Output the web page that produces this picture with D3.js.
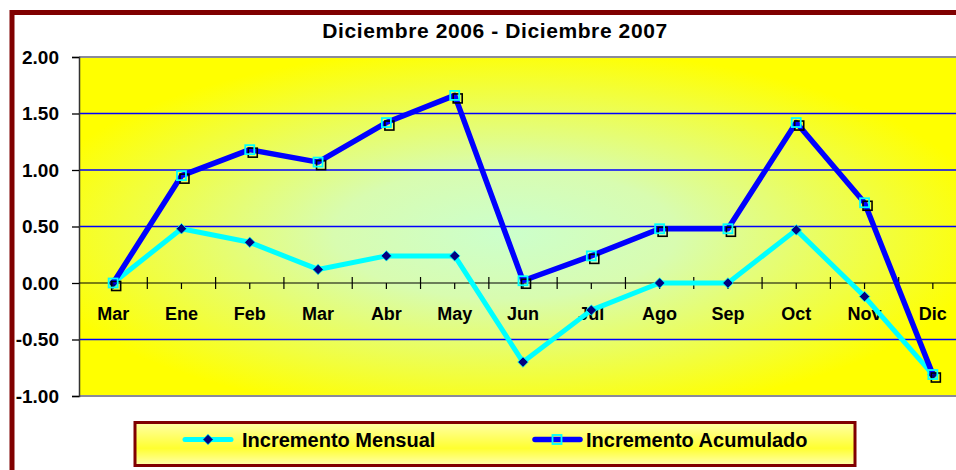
<!DOCTYPE html>
<html lang="es">
<head>
<meta charset="UTF-8">
<title>Diciembre 2006 - Diciembre 2007</title>
<script src="https://d3js.org/d3.v7.min.js"></script>
<style>
  body { margin: 0; background: #fff; overflow: hidden; }
  text { font-family: "Liberation Sans", Arial, sans-serif; font-weight: bold; fill: #000; }
</style>
</head>
<body>
<div id="chart"></div>
<script>
// data
var months = ["Mar", "Ene", "Feb", "Mar", "Abr", "May", "Jun", "Jul", "Ago", "Sep", "Oct", "Nov", "Dic"];
var mensual = [0.00, 0.48, 0.36, 0.12, 0.24, 0.24, -0.70, -0.24, 0.00, 0.00, 0.47, -0.12, -0.81];
var acumulado = [0.00, 0.95, 1.18, 1.07, 1.42, 1.66, 0.02, 0.24, 0.48, 0.48, 1.42, 0.71, -0.81];
var yTicks = [2.0, 1.5, 1.0, 0.5, 0.0, -0.5, -1.0];
var seriesNames = ["Incremento Mensual", "Incremento Acumulado"];

var W = 956, H = 470;
var plot = {left: 79, right: 967, top: 57, bottom: 396};

var svg = d3.select("#chart").append("svg")
    .attr("width", W).attr("height", H);

var defs = svg.append("defs");
var rg = defs.append("radialGradient").attr("id", "plotBg")
    .attr("cx", 0.48).attr("cy", 0.52).attr("r", 0.55);
rg.append("stop").attr("offset", 0).attr("stop-color", "#ccffcc");
rg.append("stop").attr("offset", 0.35).attr("stop-color", "#d8fcb0");
rg.append("stop").attr("offset", 1).attr("stop-color", "#ffff00");

var lg = defs.append("linearGradient").attr("id", "legBg")
    .attr("x1", 0).attr("y1", 0).attr("x2", 0).attr("y2", 1);
lg.append("stop").attr("offset", 0).attr("stop-color", "#ffffa8");
lg.append("stop").attr("offset", 0.6).attr("stop-color", "#ffff30");
lg.append("stop").attr("offset", 1).attr("stop-color", "#ffffb0");

// outer chart border
svg.append("rect")
    .attr("x", 12).attr("y", 12.5)
    .attr("width", 1000).attr("height", 600)
    .attr("fill", "#fff")
    .attr("stroke", "#800000").attr("stroke-width", 5);

// scales
var x = d3.scaleBand()
    .domain(d3.range(months.length))
    .range([plot.left, plot.right]);
var y = d3.scaleLinear()
    .domain([-1, 2])
    .range([plot.bottom, plot.top]);
var cx = function(i) { return x(i) + x.bandwidth() / 2; };

// plot area
svg.append("rect")
    .attr("x", plot.left).attr("y", plot.top)
    .attr("width", plot.right - plot.left).attr("height", plot.bottom - plot.top)
    .attr("fill", "url(#plotBg)");

// gridlines
svg.selectAll(".grid")
    .data(yTicks.filter(function(d) { return d !== 0 && d !== 2 && d !== -1; }))
    .enter().append("line")
    .attr("x1", plot.left).attr("x2", plot.right)
    .attr("y1", function(d) { return y(d); })
    .attr("y2", function(d) { return y(d); })
    .attr("stroke", "#0000ff").attr("stroke-width", 1.3);

// top / bottom border of the plot
[2, -1].forEach(function(v) {
    svg.append("line")
        .attr("x1", plot.left).attr("x2", plot.right)
        .attr("y1", y(v)).attr("y2", y(v))
        .attr("stroke", "#8a8a9a").attr("stroke-width", 2);
});

// y axis
var yAxis = svg.append("g")
    .attr("transform", "translate(" + plot.left + ",0)")
    .call(d3.axisLeft(y)
        .tickValues(yTicks)
        .tickSize(7)
        .tickPadding(13)
        .tickFormat(function(d) { return d.toFixed(2); }));
yAxis.select(".domain").attr("stroke", "#333").attr("stroke-width", 1.5);
yAxis.selectAll(".tick line").attr("stroke", "#000").attr("stroke-width", 1.3);
yAxis.selectAll(".tick text")
    .attr("font-size", 19).attr("font-family", null)
    .attr("font-weight", "bold").attr("fill", "#000");

// x axis on zero line
var y0 = y(0);
svg.append("line")
    .attr("x1", plot.left).attr("x2", plot.right)
    .attr("y1", y0).attr("y2", y0)
    .attr("stroke", "#000").attr("stroke-width", 1.2);
svg.selectAll(".xmajor")
    .data(d3.range(1, months.length))
    .enter().append("line")
    .attr("x1", function(i) { return x(i); })
    .attr("x2", function(i) { return x(i); })
    .attr("y1", y0 - 6).attr("y2", y0 + 6)
    .attr("stroke", "#000").attr("stroke-width", 1.2);
svg.selectAll(".xminor")
    .data(d3.range(months.length))
    .enter().append("line")
    .attr("x1", function(i) { return cx(i); })
    .attr("x2", function(i) { return cx(i); })
    .attr("y1", y0).attr("y2", y0 + 6)
    .attr("stroke", "#000").attr("stroke-width", 1.2);
svg.selectAll(".xlabel")
    .data(months)
    .enter().append("text")
    .attr("x", function(d, i) { return cx(i); })
    .attr("y", y0 + 37)
    .attr("text-anchor", "middle")
    .attr("font-size", 18)
    .text(function(d) { return d; });

// lines
var line = function(vals) {
    return d3.line()
        .x(function(d, i) { return cx(i); })
        .y(function(d) { return y(d); })(vals);
};
svg.append("path")
    .attr("d", line(mensual))
    .attr("fill", "none").attr("stroke", "#00ffff")
    .attr("stroke-width", 5).attr("stroke-linejoin", "round");

var diamond = d3.symbol().type(d3.symbolDiamond2).size(70);
svg.selectAll(".mk1")
    .data(mensual)
    .enter().append("path")
    .attr("d", diamond)
    .attr("transform", function(d, i) { return "translate(" + cx(i) + "," + y(d) + ")"; })
    .attr("fill", "#000080").attr("stroke", "#00ffff").attr("stroke-width", 0.8);

svg.append("path")
    .attr("d", line(acumulado))
    .attr("fill", "none").attr("stroke", "#0000ff")
    .attr("stroke-width", 5.5).attr("stroke-linejoin", "round");

var sq = 9;
svg.selectAll(".mk2s")
    .data(acumulado)
    .enter().append("rect")
    .attr("x", function(d, i) { return cx(i) - sq / 2 + 3; })
    .attr("y", function(d) { return y(d) - sq / 2 + 3; })
    .attr("width", sq).attr("height", sq)
    .attr("fill", "none").attr("stroke", "#000").attr("stroke-width", 1.6);
svg.selectAll(".mk2")
    .data(acumulado)
    .enter().append("rect")
    .attr("x", function(d, i) { return cx(i) - sq / 2; })
    .attr("y", function(d) { return y(d) - sq / 2; })
    .attr("width", sq).attr("height", sq)
    .attr("fill", "none").attr("stroke", "#00ffff").attr("stroke-width", 1.8);

// title
svg.append("text")
    .attr("x", 495).attr("y", 38)
    .attr("text-anchor", "middle")
    .attr("font-size", 21)
    .attr("letter-spacing", 0.6)
    .text("Diciembre 2006 - Diciembre 2007");

// legend
var leg = svg.append("g");
leg.append("rect")
    .attr("x", 135).attr("y", 422.5)
    .attr("width", 720).attr("height", 43)
    .attr("fill", "url(#legBg)")
    .attr("stroke", "#800000").attr("stroke-width", 3);
var ly = 439.5;
leg.append("line")
    .attr("x1", 185).attr("x2", 231).attr("y1", ly).attr("y2", ly)
    .attr("stroke", "#00ffff").attr("stroke-width", 5).attr("stroke-linecap", "round");
leg.append("path")
    .attr("d", diamond)
    .attr("transform", "translate(208," + ly + ")")
    .attr("fill", "#000080").attr("stroke", "#00ffff").attr("stroke-width", 0.8);
leg.append("text")
    .attr("x", 242).attr("y", ly + 7)
    .attr("font-size", 20)
    .text(seriesNames[0]);
leg.append("line")
    .attr("x1", 535).attr("x2", 580).attr("y1", ly).attr("y2", ly)
    .attr("stroke", "#0000ff").attr("stroke-width", 5.5).attr("stroke-linecap", "round");
leg.append("rect")
    .attr("x", 557 - sq / 2).attr("y", ly - sq / 2)
    .attr("width", sq).attr("height", sq)
    .attr("fill", "none").attr("stroke", "#00ffff").attr("stroke-width", 1.8);
leg.append("text")
    .attr("x", 586).attr("y", ly + 7)
    .attr("font-size", 20)
    .text(seriesNames[1]);
</script>
</body>
</html>
